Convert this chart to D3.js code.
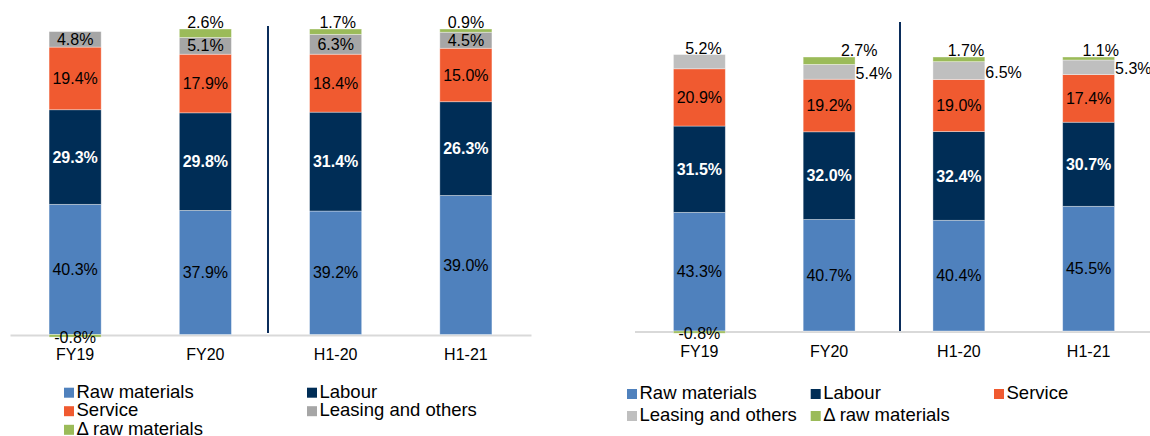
<!DOCTYPE html>
<html>
<head>
<meta charset="utf-8">
<script src="https://cdn.jsdelivr.net/npm/d3@7"></script>
<style>
  body { margin: 0; background: #fff; }
  svg { display: block; font-family: "Liberation Sans", Arial, sans-serif; }
</style>
</head>
<body>
<svg width="1150" height="436"></svg>
<script>
var categories = ["FY19", "FY20", "H1-20", "H1-21"];
var seriesNames = ["Raw materials", "Labour", "Service", "Leasing and others", "\u0394 raw materials"];
var keys = ["raw", "labour", "service", "leasing", "delta"];

// left chart (shares, drawn as 100% stacked)
var leftRaw = [40.3, 37.9, 39.2, 39.0];
var leftLabour = [29.3, 29.8, 31.4, 26.3];
var leftService = [19.4, 17.9, 18.4, 15.0];
var leftLeasing = [4.8, 5.1, 6.3, 4.5];
var leftDelta = [-0.8, 2.6, 1.7, 0.9];

// right chart
var rightRaw = [43.3, 40.7, 40.4, 45.5];
var rightLabour = [31.5, 32.0, 32.4, 30.7];
var rightService = [20.9, 19.2, 19.0, 17.4];
var rightLeasing = [5.2, 5.4, 6.5, 5.3];
var rightDelta = [-0.8, 2.7, 1.7, 1.1];

var svg = d3.select("svg");

var panels = [
  {
    series: [leftRaw, leftLabour, leftService, leftLeasing, leftDelta],
    normalize: true,
    colors: ["#4F81BD", "#002D56", "#F05A30", "#A6A6A6", "#9BBB59"],
    xRange: [10, 531], yRange: [334.5, 29], axisY: 335,
    divider: { x: 268, y1: 26, y2: 333 },
    leasingOutside: false,
    nudge: [0, 0, 2, 0],
    legend: { cols: [64, 307], rows: [397.7, 416.2, 434.8], perRow: 2 }
  },
  {
    series: [rightRaw, rightLabour, rightService, rightLeasing, rightDelta],
    normalize: false,
    colors: ["#4F81BD", "#002D56", "#F05A30", "#BFBFBF", "#9BBB59"],
    xRange: [634.5, 1153.5], yRange: [331, 57], axisY: 331.5,
    divider: { x: 900, y1: 22, y2: 331 },
    leasingOutside: true,
    nudge: [4, 30, 7, 12],
    legend: { cols: [627, 810.7, 994], rows: [399, 421], perRow: 3 }
  }
];

panels.forEach(function (p) {
  var rows = categories.map(function (c, i) {
    var row = { cat: c, i: i };
    var total = d3.sum(p.series, function (s) { return Math.abs(s[i]); });
    keys.forEach(function (k, j) {
      row[k] = p.normalize ? p.series[j][i] / total * 100 : p.series[j][i];
    });
    return row;
  });

  var x = d3.scaleBand().domain(categories).range(p.xRange).paddingInner(0.6).paddingOuter(0.3);
  var y = d3.scaleLinear().domain([0, 100]).range(p.yRange);

  var stacked = d3.stack().keys(keys).offset(d3.stackOffsetDiverging)(rows);

  var g = svg.append("g");

  // axis
  var ax = g.append("g")
    .attr("transform", "translate(0," + p.axisY + ")")
    .call(d3.axisBottom(x).tickSize(0).tickPadding(14));
  ax.select(".domain").attr("stroke", "#D9D9D9").attr("stroke-width", 2);
  ax.selectAll("text").attr("font-size", "16px").attr("fill", "#000")
    .attr("font-family", "'Liberation Sans', Arial, sans-serif");

  g.append("line")
    .attr("x1", p.divider.x).attr("x2", p.divider.x)
    .attr("y1", p.divider.y1).attr("y2", p.divider.y2)
    .attr("stroke", "#0B2D5B").attr("stroke-width", 2);

  stacked.forEach(function (layer, j) {
    g.selectAll(".bar" + j)
      .data(layer)
      .enter()
      .append("rect")
      .attr("x", function (d) { return x(d.data.cat); })
      .attr("y", function (d) { return y(Math.max(d[0], d[1])); })
      .attr("width", x.bandwidth())
      .attr("height", function (d) { return Math.abs(y(d[0]) - y(d[1])); })
      .attr("fill", p.colors[j])
      .attr("stroke", "rgba(255,255,255,0.45)")
      .attr("stroke-width", 0.8);
  });

  // data labels
  stacked.forEach(function (layer, j) {
    layer.forEach(function (d) {
      var i = d.data.i;
      var val = p.series[j][i];
      var txt = val.toFixed(1) + "%";
      var top = Math.min(y(d[0]), y(d[1]));
      var bottom = Math.max(y(d[0]), y(d[1]));
      var mid = (top + bottom) / 2;
      var cx = x(d.data.cat) + x.bandwidth() / 2;
      var t = g.append("text").attr("font-size", "16px").attr("fill", "#000").text(txt);
      var key = keys[j];
      var deltaNeg = p.series[4][i] < 0;

      if (key === "delta" && val < 0) {
        t.attr("x", cx).attr("y", p.axisY + 2).attr("dy", "0.35em").attr("text-anchor", "middle");
      } else if (key === "delta") {
        t.attr("x", cx + p.nudge[i]).attr("y", top - 1).attr("text-anchor", "middle");
      } else if (key === "leasing" && p.leasingOutside) {
        if (deltaNeg) {
          t.attr("x", cx + p.nudge[i]).attr("y", top - 1).attr("text-anchor", "middle");
        } else {
          t.attr("x", x(d.data.cat) + x.bandwidth() + 0.5).attr("y", mid + 1.5)
            .attr("dy", "0.35em").attr("text-anchor", "start");
        }
      } else {
        t.attr("x", cx).attr("y", mid).attr("dy", "0.35em").attr("text-anchor", "middle");
        if (key === "labour") t.attr("fill", "#fff").attr("font-weight", "bold");
      }
    });
  });

  // legend
  seriesNames.forEach(function (name, j) {
    var col = j % p.legend.perRow, row = Math.floor(j / p.legend.perRow);
    var lx = p.legend.cols[col], ly = p.legend.rows[row];
    g.append("rect").attr("x", lx).attr("y", ly - 10).attr("width", 10).attr("height", 10)
      .attr("fill", p.colors[j]);
    g.append("text").attr("x", lx + 12.5).attr("y", ly).attr("font-size", "18.5px")
      .attr("fill", "#000").text(name);
  });
});
</script>
</body>
</html>
